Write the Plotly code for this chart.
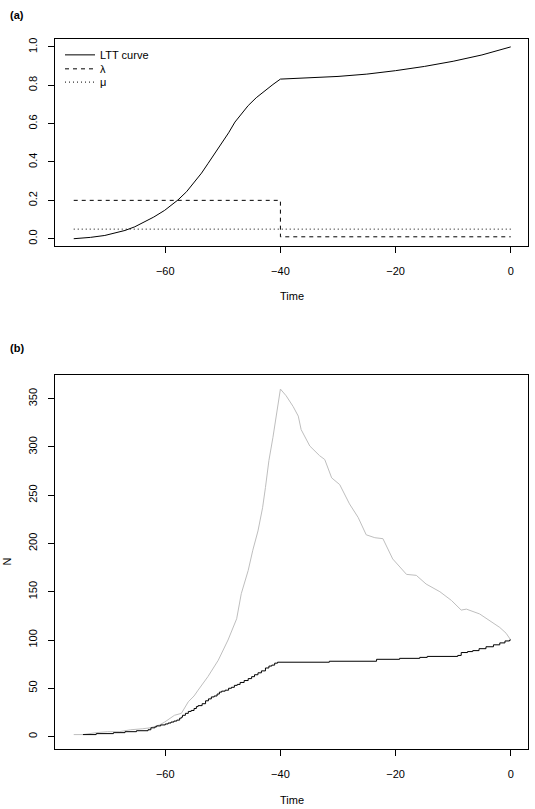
import plotly.graph_objects as go

# ---------------- data ----------------
# Panel (a): LTT curve and rates
ltt_time = [-75.9, -73.0, -70.5, -68.5, -67.0, -65.3, -63.6, -62.0, -60.1, -59.0,
            -57.8, -56.3, -54.9, -53.7, -52.6, -51.4, -50.2, -49.0, -47.9, -46.7,
            -45.6, -44.2, -42.7, -41.3, -40.0, -37.5, -35.0, -30.0, -25.0, -20.0,
            -15.0, -10.0, -5.0, 0.0]
ltt_value = [0.0, 0.007, 0.017, 0.030, 0.043, 0.062, 0.087, 0.113, 0.148, 0.172,
             0.202, 0.245, 0.295, 0.342, 0.391, 0.443, 0.495, 0.552, 0.608, 0.654,
             0.694, 0.735, 0.772, 0.804, 0.832, 0.835, 0.838, 0.846, 0.858, 0.876,
             0.898, 0.925, 0.958, 1.0]

lambda_time = [-75.9, -40.0, -40.0, 0.0]
lambda_value = [0.2, 0.2, 0.01, 0.01]

mu_time = [-75.9, 0.0]
mu_value = [0.05, 0.05]

# Panel (b): complete (grey) and reconstructed (black) lineage counts
full_time = [-75.9, -74.3, -72.0, -70.0, -68.0, -66.0, -64.0, -62.6, -61.0, -60.1,
             -58.4, -57.2, -56.0, -55.0, -54.3, -52.6, -50.8, -49.1, -47.6, -46.8,
             -45.6, -44.8, -43.9, -43.1, -42.6, -42.0, -41.3, -40.7, -40.1, -40.0,
             -39.0, -37.8, -36.9, -36.4, -34.9, -33.2, -32.3, -31.1, -29.7, -28.0,
             -26.5, -25.1, -23.6, -22.2, -20.5, -18.1, -16.4, -14.7, -12.3, -10.3,
             -8.6, -7.7, -5.4, -3.7, -1.9, -0.8, 0.0]
full_n = [2, 2, 4, 5, 5, 7, 8, 9, 12, 15,
          22, 24, 36, 42, 48, 62, 79, 100, 122, 148,
          172, 193, 213, 237, 258, 286, 310, 334, 358, 360,
          353, 342, 332, 318, 301, 291, 287, 268, 261, 241,
          227, 209, 206, 205, 184, 168, 167, 158, 150, 141,
          131, 132, 127, 120, 113, 107, 100]

recon_time = [-74.3, -72.0, -69.0, -67.0, -65.0, -63.0, -62.5, -61.8, -61.5, -60.8,
              -60.0, -59.5, -59.0, -58.5, -58.0, -57.5, -57.2, -57.0, -56.5, -56.0,
              -55.5, -55.0, -54.6, -54.3, -53.6, -53.0, -52.5, -52.0, -51.5, -51.0,
              -50.6, -50.2, -49.6, -49.0, -48.5, -48.0, -47.5, -47.0, -46.3, -45.6,
              -45.0, -44.5, -43.9, -43.3, -42.6, -42.0, -41.5, -41.0, -40.5, -31.5,
              -23.3, -19.3, -15.8, -14.5, -9.2, -8.6, -7.5, -6.6, -5.5, -4.3,
              -3.0, -1.9, -1.0, -0.2, 0.0]
recon_n = [2, 3, 4, 5, 6, 7, 9, 10, 11, 12,
           13, 14, 15, 16, 17, 19, 20, 22, 24, 26,
           27, 29, 31, 32, 34, 37, 39, 41, 42, 44,
           46, 47, 48, 50, 51, 53, 54, 56, 58, 60,
           62, 64, 66, 68, 71, 73, 74, 76, 77, 78,
           80, 81, 82, 83, 84, 87, 88, 89, 91, 93,
           95, 97, 99, 100, 100]

x_ticks = [-60, -40, -20, 0]
ya_ticks = [0.0, 0.2, 0.4, 0.6, 0.8, 1.0]
ya_labels = ["0.0", "0.2", "0.4", "0.6", "0.8", "1.0"]
yb_ticks = [0, 50, 100, 150, 200, 250, 300, 350]

# ---------------- figure ----------------
W, H = 535, 809
FONT = "Liberation Sans, Arial, Helvetica, sans-serif"
FS = 11

fig = go.Figure()

fig.add_trace(go.Scatter(x=ltt_time, y=ltt_value, mode="lines", name="LTT curve",
                         line=dict(color="black", width=1),
                         xaxis="x", yaxis="y", legend="legend"))
fig.add_trace(go.Scatter(x=lambda_time, y=lambda_value, mode="lines", name="λ",
                         line=dict(color="black", width=1, dash="4px,4px"),
                         xaxis="x", yaxis="y", legend="legend2"))
fig.add_trace(go.Scatter(x=mu_time, y=mu_value, mode="lines", name="μ",
                         line=dict(color="black", width=1, dash="1px,3px"),
                         xaxis="x", yaxis="y", legend="legend3"))

fig.add_trace(go.Scatter(x=full_time, y=full_n, mode="lines", showlegend=False,
                         line=dict(color="#bebebe", width=1),
                         xaxis="x2", yaxis="y2"))
fig.add_trace(go.Scatter(x=recon_time, y=recon_n, mode="lines", showlegend=False,
                         line=dict(color="black", width=1, shape="hv"),
                         xaxis="x2", yaxis="y2"))

x_dom = [55.3 / W, 528.0 / W]
ya_dom = [1 - 245.0 / H, 1 - 37.3 / H]
yb_dom = [1 - 749.3 / H, 1 - 374.1 / H]

axis_common = dict(showline=True, mirror=True, linecolor="black", linewidth=1,
                   ticks="outside", ticklen=6, tickcolor="black", tickwidth=1,
                   showgrid=False, zeroline=False,
                   tickfont=dict(family=FONT, size=FS, color="black"))

leg_common = dict(xanchor="left", yanchor="middle", bgcolor="rgba(0,0,0,0)",
                  borderwidth=0, font=dict(size=FS))

fig.update_layout(
    width=W, height=H,
    margin=dict(l=0, r=0, t=0, b=0),
    paper_bgcolor="white", plot_bgcolor="white",
    font=dict(family=FONT, size=FS, color="black"),
    xaxis=dict(domain=x_dom, range=[-79.1, 3.0], tickvals=x_ticks, anchor="y",
               ticklabelstandoff=8, **axis_common),
    yaxis=dict(domain=ya_dom, range=[-0.04, 1.04], tickvals=ya_ticks, ticktext=ya_labels,
               tickangle=-90, anchor="x", ticklabelstandoff=7, **axis_common),
    xaxis2=dict(domain=x_dom, range=[-79.1, 3.0], tickvals=x_ticks, anchor="y2",
                ticklabelstandoff=8, **axis_common),
    yaxis2=dict(domain=yb_dom, range=[-13.4, 374.4], tickvals=yb_ticks,
                tickangle=-90, anchor="x2", ticklabelstandoff=7, **axis_common),
    legend=dict(x=60 / W, y=1 - 53 / H, **leg_common),
    legend2=dict(x=60 / W, y=1 - 67 / H, **leg_common),
    legend3=dict(x=60 / W, y=1 - 80.3 / H, **leg_common),
    annotations=[
        dict(text="<b>(a)</b>", x=16.5 / W, y=1 - 12.7 / H, xref="paper", yref="paper",
             showarrow=False, xanchor="center", yanchor="middle", font=dict(size=FS)),
        dict(text="<b>(b)</b>", x=16.5 / W, y=1 - 347.3 / H, xref="paper", yref="paper",
             showarrow=False, xanchor="center", yanchor="middle", font=dict(size=FS)),
        dict(text="Time", x=291.7 / W, y=1 - 295 / H, xref="paper", yref="paper",
             showarrow=False, xanchor="center", yanchor="middle", font=dict(size=FS)),
        dict(text="Time", x=291.7 / W, y=1 - 800 / H, xref="paper", yref="paper",
             showarrow=False, xanchor="center", yanchor="middle", font=dict(size=FS)),
        dict(text="N", x=7.5 / W, y=1 - 561.5 / H, xref="paper", yref="paper",
             showarrow=False, xanchor="center", yanchor="middle", textangle=-90,
             font=dict(size=FS)),
    ],
)

fig.write_html("out.html")
